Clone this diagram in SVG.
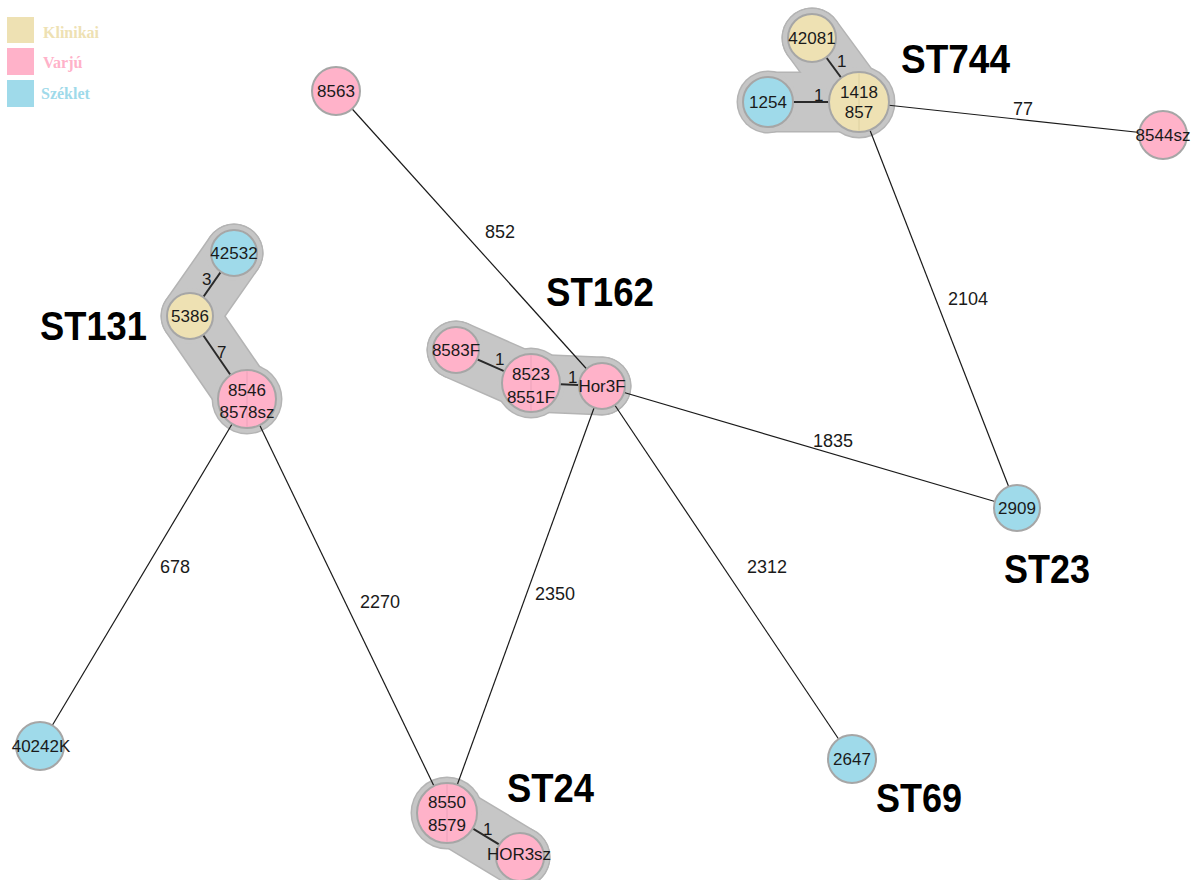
<svg xmlns="http://www.w3.org/2000/svg" width="1199" height="880" viewBox="0 0 1199 880">
<style>
.hullo{fill:none;stroke:#b4b4b4;stroke-linecap:round;stroke-linejoin:round}
.hulli{fill:none;stroke:#c6c6c6;stroke-linecap:round;stroke-linejoin:round}
.ho{fill:#b4b4b4}
.hi{fill:#c6c6c6}
.e{stroke:#1a1a1a;stroke-width:1.2;fill:none}
.ce{stroke:#2a2a2a;stroke-width:2;fill:none}
.n{stroke:#a6a6a6;stroke-width:2}
.k{fill:#eee1b3}
.v{fill:#ffb2c9}
.s{fill:#9fdaea}
.sp{stroke-width:1}
.nt{font-family:"Liberation Sans",Arial,sans-serif;font-size:17px;fill:#1a1a1a;text-anchor:middle}
.el{font-family:"Liberation Sans",Arial,sans-serif;font-size:18px;fill:#1a1a1a}
.cl{font-family:"Liberation Sans",Arial,sans-serif;font-size:17px;fill:#1a1a1a}
.st{font-family:"Liberation Sans",Arial,sans-serif;font-size:40px;font-weight:bold;fill:#000}
.lg{font-family:"Liberation Serif","Times New Roman",serif;font-size:16px;font-weight:bold}
</style>

<g id="legend">
<rect x="7" y="17" width="27" height="26" fill="#eee1b3"/>
<text class="lg" x="43" y="38" fill="#eee1b3">Klinikai</text>
<rect x="7" y="48" width="27" height="27" fill="#ffb2c9"/>
<text class="lg" x="43" y="68" fill="#ffb2c9">Varjú</text>
<rect x="7" y="80" width="27" height="27" fill="#9fdaea"/>
<text class="lg" x="41" y="99" fill="#9fdaea">Széklet</text>
</g>

<g id="hulls">
<path class="hullo" stroke-width="61" d="M812,38 L859,102 M768,102 L859,102"/>
<circle class="ho" cx="812" cy="38" r="30.5"/><circle class="ho" cx="859" cy="102" r="36.5"/><circle class="ho" cx="768" cy="102" r="31.5"/>
<path class="hullo" stroke-width="59" d="M234,253 L190,316 L247,399"/>
<circle class="ho" cx="234" cy="253" r="29.5"/><circle class="ho" cx="190" cy="316" r="29.5"/><circle class="ho" cx="247" cy="399" r="35.5"/>
<path class="hullo" stroke-width="59" d="M456,350 L531,383 L602,386"/>
<circle class="ho" cx="456" cy="350" r="29.5"/><circle class="ho" cx="531" cy="383" r="35.5"/><circle class="ho" cx="602" cy="386" r="29.5"/>
<path class="hullo" stroke-width="61" d="M447,813 L520,857"/>
<circle class="ho" cx="447" cy="813" r="36.5"/><circle class="ho" cx="520" cy="857" r="30.5"/>

<path class="hulli" stroke-width="58" d="M812,38 L859,102 M768,102 L859,102"/>
<circle class="hi" cx="812" cy="38" r="29"/><circle class="hi" cx="859" cy="102" r="35"/><circle class="hi" cx="768" cy="102" r="30"/>
<path class="hulli" stroke-width="56" d="M234,253 L190,316 L247,399"/>
<circle class="hi" cx="234" cy="253" r="28"/><circle class="hi" cx="190" cy="316" r="28"/><circle class="hi" cx="247" cy="399" r="34"/>
<path class="hulli" stroke-width="56" d="M456,350 L531,383 L602,386"/>
<circle class="hi" cx="456" cy="350" r="28"/><circle class="hi" cx="531" cy="383" r="34"/><circle class="hi" cx="602" cy="386" r="28"/>
<path class="hulli" stroke-width="58" d="M447,813 L520,857"/>
<circle class="hi" cx="447" cy="813" r="35"/><circle class="hi" cx="520" cy="857" r="29"/>
</g>

<g id="connectors">
<line class="e" x1="336" y1="91" x2="602" y2="386"/>
<line class="e" x1="859" y1="102" x2="1163" y2="135"/>
<line class="e" x1="859" y1="102" x2="1017" y2="508"/>
<line class="e" x1="602" y1="386" x2="1017" y2="508"/>
<line class="e" x1="602" y1="386" x2="447" y2="813"/>
<line class="e" x1="602" y1="386" x2="852" y2="759"/>
<line class="e" x1="247" y1="399" x2="40" y2="746"/>
<line class="e" x1="247" y1="399" x2="447" y2="813"/>
<line class="ce" x1="812" y1="38" x2="859" y2="102"/>
<line class="ce" x1="768" y1="102" x2="859" y2="102"/>
<line class="ce" x1="234" y1="253" x2="190" y2="316"/>
<line class="ce" x1="190" y1="316" x2="247" y2="399"/>
<line class="ce" x1="456" y1="350" x2="531" y2="383"/>
<line class="ce" x1="531" y1="383" x2="602" y2="386"/>
<line class="ce" x1="447" y1="813" x2="520" y2="857"/>
<text class="el" x="485" y="238">852</text>
<text class="el" x="1013" y="115">77</text>
<text class="el" x="948" y="305">2104</text>
<text class="el" x="813" y="447">1835</text>
<text class="el" x="535" y="600">2350</text>
<text class="el" x="747" y="573">2312</text>
<text class="el" x="160" y="573">678</text>
<text class="el" x="360" y="608">2270</text>
<text class="cl" x="837" y="67">1</text>
<text class="cl" x="814" y="101">1</text>
<text class="cl" x="202" y="285">3</text>
<text class="cl" x="217" y="358">7</text>
<text class="cl" x="495" y="365">1</text>
<text class="cl" x="568" y="383">1</text>
<text class="cl" x="483" y="835">1</text>
</g>

<g id="n8563"><circle class="n v" cx="336" cy="91" r="24"/><text class="nt" x="336" y="97">8563</text></g>
<g id="n42081"><circle class="n k" cx="812" cy="38" r="24"/><text class="nt" x="812" y="44">42081</text></g>
<g id="n1418"><circle class="n k" cx="859" cy="102" r="30"/><line x1="859" y1="73" x2="859" y2="131" stroke="#ddd0a0" class="sp"/><text class="nt" x="859" y="98">1418</text><text class="nt" x="859" y="118">857</text></g>
<g id="n1254"><circle class="n s" cx="768" cy="102" r="25"/><text class="nt" x="768" y="108">1254</text></g>
<g id="n8544sz"><circle class="n v" cx="1163" cy="135" r="24"/><text class="nt" x="1163" y="141">8544sz</text></g>
<g id="n42532"><circle class="n s" cx="234" cy="253" r="23"/><text class="nt" x="234" y="259">42532</text></g>
<g id="n5386"><circle class="n k" cx="190" cy="316" r="23"/><text class="nt" x="190" y="322">5386</text></g>
<g id="n8546"><circle class="n v" cx="247" cy="399" r="29"/><line x1="247" y1="371" x2="247" y2="427" stroke="#eba2ba" class="sp"/><text class="nt" x="247" y="396">8546</text><text class="nt" x="247" y="418">8578sz</text></g>
<g id="n8583F"><circle class="n v" cx="456" cy="350" r="23"/><text class="nt" x="456" y="356">8583F</text></g>
<g id="n8523"><circle class="n v" cx="531" cy="383" r="29"/><line x1="531" y1="355" x2="531" y2="411" stroke="#eba2ba" class="sp"/><text class="nt" x="531" y="380">8523</text><text class="nt" x="531" y="403">8551F</text></g>
<g id="nHor3F"><circle class="n v" cx="602" cy="386" r="23"/><text class="nt" x="602" y="392">Hor3F</text></g>
<g id="n2909"><circle class="n s" cx="1017" cy="508" r="23"/><text class="nt" x="1017" y="514">2909</text></g>
<g id="n40242K"><circle class="n s" cx="40" cy="746" r="24"/><text class="nt" x="41" y="752">40242K</text></g>
<g id="n2647"><circle class="n s" cx="852" cy="759" r="24"/><text class="nt" x="852" y="765">2647</text></g>
<g id="n8550"><circle class="n v" cx="447" cy="813" r="30"/><line x1="447" y1="784" x2="447" y2="842" stroke="#eba2ba" class="sp"/><text class="nt" x="447" y="808">8550</text><text class="nt" x="447" y="831">8579</text></g>
<g id="nHOR3sz"><circle class="n v" cx="520" cy="857" r="24"/><text class="nt" x="519" y="860">HOR3sz</text></g>

<g id="st-labels">
<text class="st" x="901" y="73" textLength="109" lengthAdjust="spacingAndGlyphs">ST744</text>
<text class="st" x="546" y="306" textLength="108" lengthAdjust="spacingAndGlyphs">ST162</text>
<text class="st" x="40" y="340" textLength="107" lengthAdjust="spacingAndGlyphs">ST131</text>
<text class="st" x="1004" y="583" textLength="86" lengthAdjust="spacingAndGlyphs">ST23</text>
<text class="st" x="507" y="802" textLength="87" lengthAdjust="spacingAndGlyphs">ST24</text>
<text class="st" x="876" y="812" textLength="86" lengthAdjust="spacingAndGlyphs">ST69</text>
</g>
</svg>
